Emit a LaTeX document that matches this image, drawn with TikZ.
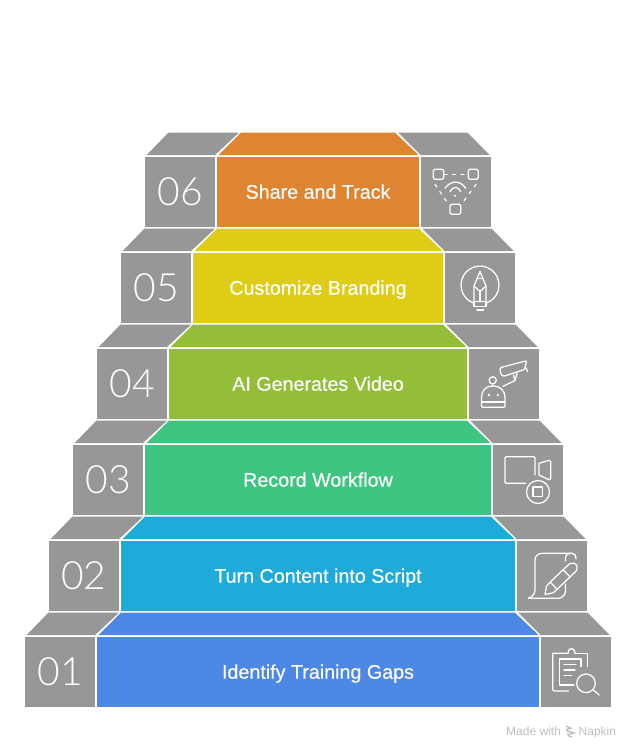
\documentclass[tikz,border=0pt]{standalone}
\usepackage{fontspec}
\setmainfont{Liberation Sans}
\newfontfamily\numfont{Lato Light}
\usepackage{xcolor}
\usetikzlibrary{positioning}

\definecolor{stepA}{HTML}{4E88E7}
\definecolor{stepB}{HTML}{1EABDA}
\definecolor{stepC}{HTML}{3DC581}
\definecolor{stepD}{HTML}{94BD38}
\definecolor{stepE}{HTML}{DFCC14}
\definecolor{stepF}{HTML}{DF8430}
\definecolor{stepgrey}{HTML}{979797}
\definecolor{marktext}{HTML}{BDBDBD}

\begin{document}
\begin{tikzpicture}[
  x=1pt, y=-1pt,
  frontbox/.style={rectangle, inner sep=0pt, outer sep=0pt, minimum height=70pt},
  midbox/.style={frontbox, text=white, font=\fontsize{19.7}{22}\selectfont\addfontfeature{FakeBold=0.2},
             text height=14pt, text depth=0pt},
  greybox/.style={frontbox, fill=stepgrey, minimum width=70pt},
  numlabel/.style={greybox, text=white, font=\fontsize{39}{44}\numfont},
  icon/.style={draw=white, line width=1.25pt, line cap=round, line join=round},
  marknode/.style={inner sep=0pt, text=marktext, font=\fontsize{12}{13}\selectfont}
]
\useasboundingbox (0,0) rectangle (636,756);

% the six steps
\foreach \n/\col/\lab in {0/stepA/Identify Training Gaps, 1/stepB/Turn Content into Script,
    2/stepC/Record Workflow, 3/stepD/AI Generates Video,
    4/stepE/Customize Branding, 5/stepF/Share and Track}{
  \pgfmathsetmacro\shift{24*\n}
  \pgfmathsetmacro\rowy{671.7-96*\n}
  \pgfmathsetmacro\midw{442.6-48*\n}
  \pgfmathtruncatemacro\numval{\n+1}
  \node[midbox, fill=\col, minimum width=\midw pt] (mid\n) at (318,\rowy) {\lab};
  \node[numlabel] (num\n) at (60+\shift,\rowy) {0\numval};
  \node[greybox] (ico\n) at (576.4-\shift,\rowy) {};
  % top faces
  \fill[\col] ([xshift=1.8pt,yshift=1.7pt]mid\n.north west) -- ++(22.5,-22.3)
    -- ([xshift=-24.3pt,yshift=24pt]mid\n.north east) -- ([xshift=-.8pt,yshift=1.7pt]mid\n.north east) -- cycle;
  \fill[stepgrey] ([xshift=1.7pt,yshift=1.7pt]num\n.north west) -- ++(21.6,-22.3) -- ++(70.7,0)
    -- ([yshift=1.7pt]num\n.north east) -- cycle;
  \fill[stepgrey] ([xshift=-.7pt,yshift=1.7pt]ico\n.north west) -- ++(-22.5,-22.3) -- ++(69.3,0)
    -- ([xshift=-1.7pt,yshift=1.7pt]ico\n.north east) -- cycle;
}

% 01 clipboard
\draw[icon] (575,653.3) -- (587.3,653.3) -- (587.3,666.5);
\draw[icon] (568.5,691) -- (554,691) .. controls (553,691) and (552.7,690.5) .. (552.7,689.5) -- (552.7,653.3) -- (568,653.3);
\draw[icon] (568,653.3) .. controls (568.5,649.5) and (570,648.5) .. (571.5,648.5) .. controls (573,648.5) and (574.5,649.5) .. (575,653.3);
\draw[icon] (574,685) -- (559.3,685) -- (559.3,659) -- (581,659) -- (581,666.5);
\draw[icon] (564,664.3) -- (576,664.3) (564,670) -- (575,670) (564,675.7) -- (571.7,675.7);
\draw[icon] (586,683.3) circle[radius=9.3];
\draw[icon] (593.3,690) -- (599.3,695);

% 02 script and pen
\draw[icon] (528.3,598.3) -- (558,598.3) .. controls (562,598.3) and (565.5,595) .. (565.5,591) -- (565.5,584);
\draw[icon] (528.3,598.3) .. controls (532,597) and (535,594) .. (535,590) -- (535,560) .. controls (535,556) and (538,553.3) .. (542,553.3) -- (572,553.3) .. controls (574.5,553.3) and (576,555) .. (576,559);
\draw[icon] (570,553.3) .. controls (567,553.3) and (565.5,555) .. (565.5,559) -- (565.5,561);
\draw[icon] (545,594.5) -- (546.5,586) -- (550.2,582.1) -- (557.1,589.3) -- (553.2,592.8) -- cycle;
\draw[icon] (550.2,582.1) -- (569,564.2) .. controls (572,562) and (576,563) .. (577,566) .. controls (577.5,568) and (577,570) .. (575.8,571.4) -- (557.1,589.3);
\draw[icon] (563.2,569.7) -- (570,576.9);

% 03 video with stop button
\draw[icon] (525.7,483.3) -- (506,483.3) .. controls (505.3,483.3) and (505,483) .. (505,482.3) -- (505,457.7) .. controls (505,457) and (505.3,456.7) .. (506,456.7) -- (534,456.7) .. controls (534.7,456.7) and (535,457) .. (535,457.7) -- (535,475);
\draw[icon] (539,463.3) -- (549,460.3) .. controls (550,460) and (550.7,460.5) .. (550.7,461.5) -- (550.7,478.5) .. controls (550.7,479.5) and (550,480) .. (549,479.7) -- (539,475) -- cycle;
\draw[icon] (538,492) circle[radius=11.5];
\draw[icon] (533,487) rectangle (542.7,496.7);

% 04 robot and camera
\draw[icon] (492.7,380.3) circle[radius=3.6];
\draw[icon] (492.7,384) -- (492.7,386);
\draw[icon, rounded corners=1pt] (481.5,407.3) -- (481.5,398) .. controls (481.5,391) and (486,386) .. (493,386) .. controls (500,386) and (505,391) .. (505,398) -- (505,407.3) -- cycle;
\draw[icon] (481.5,402) -- (505,402);
\fill[white] (489,395) circle[radius=1.3] (497.8,395) circle[radius=1.3];
\draw[icon, rounded corners=1.2pt] (500,367.7) -- (526.7,360.7) -- (524.5,369.5) -- (503,376.5) -- (500.3,373) -- cycle;
\draw[icon] (503,386.3) -- (515,380.5) -- (513.5,375);
\draw[icon] (515,380.5) -- (517,373.5);
\draw[icon] (525.8,367.7) -- (527.7,371.7);

% 05 light bulb with pencil
\draw[icon] (473.5,303) arc[start angle=110, end angle=430, radius=19];
\draw[icon] (474,301.7) -- (474,286) -- (480,271.5) -- (486,286) -- (486,301.7);
\draw[icon] (476.8,278.7) -- (483.2,278.7);
\draw[icon] (474,286) -- (480,291.5) -- (486,286);
\draw[icon] (480,291.5) -- (480,301.7);
\draw[icon] (474,301.7) -- (486,301.7) -- (486,306.7) -- (474,306.7) -- cycle;
\draw[icon] (477,310) -- (483.5,310);

% 06 devices and signal
\draw[icon, rounded corners=1.5pt] (433.3,169.3) rectangle (443.7,179.3);
\draw[icon, rounded corners=1.5pt] (468.3,169.3) rectangle (478.3,179.3);
\draw[icon, rounded corners=1.5pt] (450,204.3) rectangle (460.7,214.3);
\draw[icon, dash pattern=on 3pt off 5.5pt] (444,174.7) -- (468,174.7);
\draw[icon, dash pattern=on 3pt off 5.5pt] (435,184.3) -- (446.7,201.7);
\draw[icon, dash pattern=on 3pt off 5.5pt] (476,184.3) -- (463.3,201.7);
\draw[icon] (445,188.3) .. controls (451,180) and (460,180) .. (465.7,188.3);
\draw[icon] (450,191.7) .. controls (453,186) and (458,186) .. (460.7,191.7);
\fill[white] (455,195.7) circle[radius=1.2];

% watermark
\node[marknode, anchor=base west] (madewith) at (506,735.5) {Made with};
\node[marknode, anchor=base west] (napkin) at (578.5,735.5) {Napkin};
\draw[marktext, line width=1.3pt] (566,726) -- (571,728.2) -- (566,729.5) (566,730.5) -- (574,733) -- (567,734.5) (568,735.5) -- (572,737);

\end{tikzpicture}
\end{document}
